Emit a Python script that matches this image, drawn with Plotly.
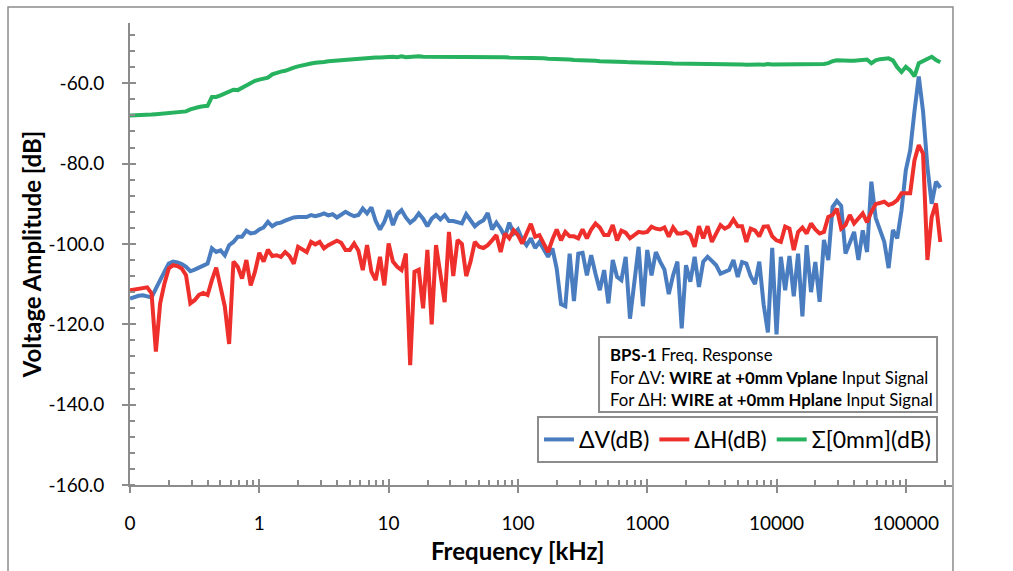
import plotly.graph_objects as go

# Sweep frequencies (kHz), 30 points per decade
freq_khz = [
    0.1000, 0.1080, 0.1166, 0.1259, 0.1359, 0.1468, 0.1585, 0.1711, 0.1848, 0.1995,
    0.2154, 0.2326, 0.2512, 0.2712, 0.2929, 0.3162, 0.3415, 0.3687, 0.3981, 0.4299,
    0.4642, 0.5012, 0.5412, 0.5843, 0.6310, 0.6813, 0.7356, 0.7943, 0.8577, 0.9261,
    1.000, 1.080, 1.166, 1.259, 1.359, 1.468, 1.585, 1.711, 1.848, 1.995,
    2.154, 2.326, 2.512, 2.712, 2.929, 3.162, 3.415, 3.687, 3.981, 4.299,
    4.642, 5.012, 5.412, 5.843, 6.310, 6.813, 7.356, 7.943, 8.577, 9.261,
    10.00, 10.80, 11.66, 12.59, 13.59, 14.68, 15.85, 17.11, 18.48, 19.95,
    21.54, 23.26, 25.12, 27.12, 29.29, 31.62, 34.15, 36.87, 39.81, 42.99,
    46.42, 50.12, 54.12, 58.43, 63.10, 68.13, 73.56, 79.43, 85.77, 92.61,
    100.0, 108.0, 116.6, 125.9, 135.9, 146.8, 158.5, 171.1, 184.8, 199.5,
    215.4, 232.6, 251.2, 271.2, 292.9, 316.2, 341.5, 368.7, 398.1, 429.9,
    464.2, 501.2, 541.2, 584.3, 631.0, 681.3, 735.6, 794.3, 857.7, 926.1,
    1000, 1080, 1166, 1259, 1359, 1468, 1585, 1711, 1848, 1995,
    2154, 2326, 2512, 2712, 2929, 3162, 3415, 3687, 3981, 4299,
    4642, 5012, 5412, 5843, 6310, 6813, 7356, 7943, 8577, 9261,
    10000, 10800, 11660, 12590, 13590, 14680, 15850, 17110, 18480, 19950,
    21540, 23260, 25120, 27120, 29290, 31620, 34150, 36870, 39810, 42990,
    46420, 50120, 54120, 58430, 63100, 68130, 73560, 79430, 85770, 92610,
    100000, 108000, 116600, 125900, 135900, 146800, 158500, 171100, 184800,
]

# Delta-V response (dB)
dv_db = [
    -113.6, -113.2, -112.9, -112.8, -113.0, -113.3, -111.1, -108.8, -106.9, -104.9,
    -104.4, -104.6, -105.0, -105.7, -106.8, -106.4, -106.0, -105.4, -104.9, -101.1,
    -102.0, -101.6, -102.8, -100.3, -99.5, -98.2, -98.2, -96.7, -97.4, -97.2,
    -96.4, -95.9, -94.5, -95.6, -94.9, -94.7, -94.2, -93.7, -93.4, -93.3,
    -93.4, -93.3, -92.8, -93.1, -92.8, -92.4, -92.9, -92.6, -93.4, -92.6,
    -92.0, -92.6, -93.1, -92.8, -91.2, -92.4, -90.9, -94.3, -96.4, -94.5,
    -91.6, -95.3, -92.6, -91.6, -93.4, -94.7, -93.9, -92.4, -93.7, -95.6,
    -93.7, -92.8, -93.9, -92.8, -94.3, -94.3, -94.5, -94.9, -92.6, -94.3,
    -95.6, -94.7, -94.1, -92.3, -96.4, -94.7, -96.2, -98.2, -94.7, -97.4,
    -96.4, -98.9, -100.3, -98.6, -101.0, -99.5, -101.4, -103.2, -101.1, -106.1,
    -115.0, -115.5, -102.4, -114.2, -102.4, -102.2, -107.8, -102.8, -107.4, -111.5,
    -106.5, -114.8, -104.0, -108.2, -109.0, -103.2, -118.6, -110.3, -100.7, -115.5,
    -101.5, -107.8, -102.0, -104.4, -106.4, -112.5, -107.8, -104.4, -121.0, -105.3,
    -109.4, -103.2, -110.7, -104.4, -103.2, -104.2, -105.3, -107.4, -106.9, -106.5,
    -104.0, -108.2, -104.5, -104.9, -108.0, -110.0, -104.4, -115.0, -122.0, -101.0,
    -122.5, -103.2, -111.5, -103.0, -113.0, -102.4, -118.0, -100.3, -112.0, -104.5,
    -114.4, -99.0, -104.0, -90.8, -89.3, -90.5, -102.4, -99.5, -97.0, -104.0,
    -96.6, -102.0, -84.5, -93.5, -96.5, -99.5, -106.0, -96.5, -98.6, -91.6,
    -81.6, -76.7, -67.0, -58.3, -67.0, -80.8, -90.0, -84.5, -86.0,
]

# Delta-H response (dB)
dh_db = [
    -111.5, -111.3, -111.0, -110.8, -110.8, -112.3, -126.8, -114.8, -109.8, -106.1,
    -105.3, -105.5, -106.1, -107.8, -114.8, -114.0, -112.7, -112.2, -112.7, -109.0,
    -105.9, -110.7, -115.6, -124.9, -104.4, -105.7, -108.6, -104.0, -110.3, -106.9,
    -102.2, -104.4, -101.4, -103.0, -102.8, -103.2, -102.0, -103.0, -104.9, -100.7,
    -101.5, -102.0, -99.5, -100.1, -99.5, -101.1, -100.3, -99.7, -99.2, -99.7,
    -101.5, -101.5, -99.9, -101.7, -106.5, -100.3, -106.9, -109.0, -103.2, -110.3,
    -99.9, -104.4, -105.7, -106.5, -102.4, -130.2, -106.9, -106.4, -116.0, -101.5,
    -120.0, -100.3, -106.9, -114.5, -97.0, -108.0, -99.0, -100.0, -108.0, -104.4,
    -99.5, -100.7, -101.0, -100.3, -99.1, -97.8, -102.0, -97.4, -98.6, -96.6,
    -97.8, -99.9, -97.4, -95.0, -98.2, -97.8, -99.9, -102.0, -98.9, -96.4,
    -99.1, -97.0, -98.1, -98.1, -98.6, -96.4, -98.6, -96.4, -94.9, -95.9,
    -97.8, -97.8, -95.3, -99.1, -96.7, -97.2, -98.6, -97.8, -97.0, -97.2,
    -97.0, -95.7, -96.2, -96.4, -95.9, -98.2, -95.9, -97.4, -97.4, -97.0,
    -97.8, -100.7, -95.6, -98.6, -95.6, -99.5, -97.4, -95.3, -96.2, -95.6,
    -93.9, -95.6, -95.6, -99.5, -96.2, -96.6, -98.1, -95.7, -95.6, -98.1,
    -99.1, -99.5, -95.7, -96.2, -101.5, -97.0, -95.9, -97.4, -94.9, -96.4,
    -97.4, -97.0, -93.3, -92.8, -91.2, -96.2, -95.3, -92.8, -94.9, -93.5,
    -92.4, -94.6, -92.0, -90.1, -89.9, -89.5, -90.3, -89.9, -89.1, -87.4,
    -87.4, -87.4, -79.2, -75.4, -77.5, -104.0, -93.3, -89.9, -99.5,
]

# Sum signal response (dB)
sum_db = [
    -68.0, -68.0, -68.0, -68.0, -67.9, -67.8, -67.7, -67.6, -67.5, -67.4,
    -67.3, -67.1, -67.1, -67.0, -66.5, -66.1, -65.9, -65.7, -65.6, -63.4,
    -63.4, -63.0, -62.6, -62.2, -61.6, -61.7, -61.1, -60.5, -59.9, -59.4,
    -59.1, -58.8, -58.6, -57.8, -57.4, -57.1, -56.9, -56.4, -56.1, -55.8,
    -55.5, -55.4, -55.1, -54.9, -54.9, -54.7, -54.5, -54.4, -54.3, -54.2,
    -54.1, -54.0, -53.9, -53.9, -53.8, -53.7, -53.7, -53.6, -53.6, -53.5,
    -53.5, -53.4, -53.5, -53.3, -53.5, -53.4, -53.4, -53.3, -53.4, -53.4,
    -53.3, -53.4, -53.4, -53.4, -53.3, -53.4, -53.4, -53.3, -53.4, -53.4,
    -53.4, -53.3, -53.4, -53.4, -53.4, -53.4, -53.5, -53.5, -53.6, -53.6,
    -53.6, -53.6, -53.6, -53.7, -53.7, -53.8, -53.8, -53.9, -53.9, -54.0,
    -54.0, -54.1, -54.1, -54.2, -54.2, -54.3, -54.3, -54.4, -54.4, -54.5,
    -54.5, -54.6, -54.6, -54.6, -54.7, -54.7, -54.8, -54.8, -54.8, -54.9,
    -54.9, -54.9, -55.0, -55.0, -55.0, -55.0, -55.1, -55.1, -55.1, -55.1,
    -55.1, -55.2, -55.2, -55.2, -55.2, -55.3, -55.3, -55.3, -55.3, -55.3,
    -55.3, -55.1, -55.3, -55.4, -55.3, -55.2, -55.3, -55.4, -55.2, -55.3,
    -55.3, -55.2, -55.3, -55.3, -55.1, -55.3, -55.3, -55.2, -55.3, -55.3,
    -55.2, -55.2, -55.0, -54.5, -54.3, -54.4, -54.4, -54.4, -54.4, -54.3,
    -54.2, -54.1, -55.0, -54.3, -54.0, -53.8, -53.8, -54.3, -56.0, -57.2,
    -55.9, -56.8, -58.3, -55.0, -54.5, -53.9, -53.4, -54.2, -54.8,
]

series_names = ["ΔV(dB)", "ΔH(dB)", "Σ[0mm](dB)"]
series_colors = ["#4a7dbf", "#ee2f2b", "#27b25f"]

x_tick_vals = [0.1, 1, 10, 100, 1000, 10000, 100000]
x_tick_text = ["0", "1", "10", "100", "1000", "10000", "100000"]
y_tick_vals = [-160, -140, -120, -100, -80, -60]
y_tick_text = ["-160.0", "-140.0", "-120.0", "-100.0", "-80.0", "-60.0"]

note_lines = [
    "<b>BPS-1</b> Freq. Response",
    "For ΔV: <b>WIRE at +0mm Vplane</b> Input Signal",
    "For ΔH: <b>WIRE at +0mm Hplane</b> Input Signal",
]

FONT = "Lato"
GREY = "#8c8c8c"
X_RANGE = [-1, 5.357]
Y_RANGE = [-160, -45]

assert len(freq_khz) == len(dv_db) == len(dh_db) == len(sum_db)

fig = go.Figure()
for name, vals, color in zip(series_names, [dv_db, dh_db, sum_db], series_colors):
    fig.add_trace(go.Scatter(
        x=freq_khz, y=vals, mode="lines", name=name,
        line=dict(color=color, width=4), hoverinfo="skip",
    ))

# invisible companion trace carrying the secondary (inside-tick) axes
fig.add_trace(go.Scatter(
    x=freq_khz, y=sum_db, xaxis="x2", yaxis="y2", mode="lines",
    line=dict(width=0), opacity=0, showlegend=False, hoverinfo="skip",
))

minor_x = [m * 10.0 ** e for e in range(-1, 6) for m in range(2, 10) if m * 10.0 ** e < 2.2e5]

axis_common = dict(showgrid=False, zeroline=False, tickcolor=GREY, tickwidth=2)

fig.update_layout(
    width=1013, height=571,
    margin=dict(l=130, r=61, t=23, b=86),
    paper_bgcolor="white", plot_bgcolor="white",
    font=dict(family=FONT, color="#000000"),
    xaxis=dict(
        type="log", range=X_RANGE, tickmode="array",
        tickvals=x_tick_vals, ticktext=x_tick_text,
        ticks="outside", ticklen=6, showline=True, linecolor=GREY, linewidth=2,
        tickfont=dict(size=19), ticklabelstandoff=14,
        minor=dict(tickvals=minor_x, ticks="inside", ticklen=5, tickwidth=2,
                   tickcolor=GREY, showgrid=False),
        **axis_common,
    ),
    yaxis=dict(
        range=Y_RANGE, tickmode="array", tickvals=y_tick_vals, ticktext=y_tick_text,
        ticks="outside", ticklen=6, showline=True, linecolor=GREY, linewidth=2,
        tickfont=dict(size=19), ticklabelstandoff=14,
        minor=dict(tick0=-160, dtick=4, ticks="inside", ticklen=5, tickwidth=2,
                   tickcolor=GREY, showgrid=False),
        title=dict(text="<b>Voltage Amplitude [dB]</b>", font=dict(size=24), standoff=0),
        **axis_common,
    ),
    xaxis2=dict(
        type="log", range=X_RANGE, overlaying="x", anchor="y", tickmode="array",
        tickvals=x_tick_vals, ticks="inside", ticklen=6, showticklabels=False,
        showline=False, **axis_common,
    ),
    yaxis2=dict(
        range=Y_RANGE, overlaying="y", anchor="x", tickmode="array",
        tickvals=y_tick_vals, ticks="inside", ticklen=6, showticklabels=False,
        showline=False, **axis_common,
    ),
    legend=dict(
        orientation="h", x=0.4951, y=0.1494, xanchor="left", yanchor="top",
        bgcolor="white", bordercolor=GREY, borderwidth=2,
        font=dict(size=23), itemwidth=30,
    ),
)

# x-axis title, centred on the chart area
fig.add_annotation(xref="paper", yref="paper", x=0.472, y=-0.1407,
                   xanchor="center", yanchor="middle", showarrow=False,
                   text="<b>Frequency [kHz]</b>", font=dict(size=24, color="#000000"))

# outer chart frame
fig.add_shape(type="rect", xref="paper", yref="paper",
              x0=-0.1484, x1=1.0012, y0=-0.25, y1=1.0346,
              line=dict(color=GREY, width=1.5), layer="below")

# information box
fig.add_shape(type="rect", xref="paper", yref="paper",
              x0=0.5706, x1=0.9818, y0=0.158, y1=0.3203,
              line=dict(color=GREY, width=2), fillcolor="white", layer="above")
for line, yc in zip(note_lines, [0.2814, 0.2327, 0.1840]):
    fig.add_annotation(xref="paper", yref="paper", x=0.5815, y=yc,
                       xanchor="left", yanchor="middle", text=line,
                       showarrow=False, font=dict(size=16.8, color="#000000"))

fig.write_html("out.html")
